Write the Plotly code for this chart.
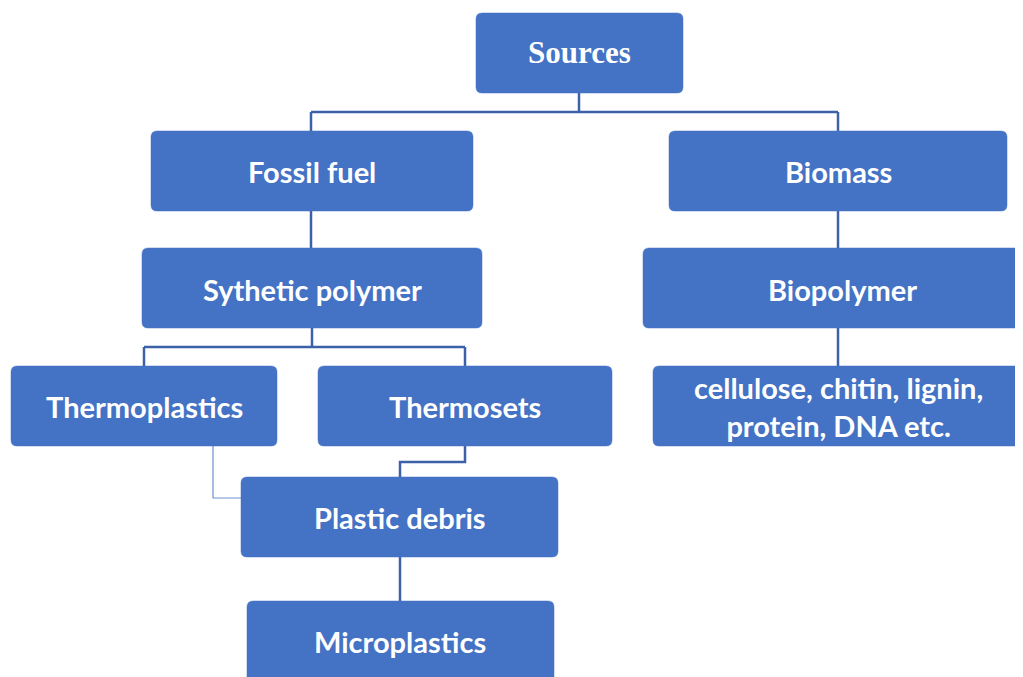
import plotly.graph_objects as go

# Node labels and box extents (left, top, right, bottom) in diagram units
labels = ["Sources", "Fossil fuel", "Biomass", "Sythetic polymer", "Biopolymer",
          "Thermoplastics", "Thermosets", "cellulose, chitin, lignin,<br>protein, DNA etc.",
          "Plastic debris", "Microplastics"]
box_left = [476, 151, 669, 142, 643, 11, 318, 653, 241, 247]
box_top = [13, 131, 131, 248, 248, 366, 366, 366, 477, 601]
box_right = [683, 473, 1007, 482, 1040, 277, 612, 1040, 558, 554]
box_bottom = [93, 211, 211, 328, 328, 446, 446, 446, 557, 700]
label_y = [52, 171, 171, 289, 289, 406, 406, 406, 517, 641]
label_x = [579, 312, 838, 312, 842, 144, 465, 838, 400, 400]

# Connector polylines (x list, y list)
conn_x = [[579, 579], [311, 838], [311, 311], [838, 838], [311, 311], [838, 838],
          [312, 312], [144, 465], [144, 144], [465, 465], [838, 838],
          [465, 465, 400, 400], [400, 400]]
conn_y = [[93, 112], [112, 112], [112, 131], [112, 131], [211, 248], [211, 248],
          [328, 347], [347, 347], [347, 366], [347, 366], [328, 366],
          [446, 462, 462, 477], [557, 601]]
thin_x = [213, 213, 241]
thin_y = [446, 498, 498]

FILL = "#4472C4"
LINE = "#3B62A8"
OFF = 8  # page body margin compensation

fig = go.Figure()

xs, ys = [], []
for cx, cy in zip(conn_x, conn_y):
    xs += cx + [None]
    ys += cy + [None]
fig.add_trace(go.Scatter(x=xs, y=ys, mode="lines", line=dict(color=LINE, width=2.5),
                         hoverinfo="skip", showlegend=False))
fig.add_trace(go.Scatter(x=thin_x, y=thin_y, mode="lines", line=dict(color="#6F8FCF", width=1.2),
                         hoverinfo="skip", showlegend=False))

def rounded(x0, y0, x1, y1, r=6):
    return (f"M {x0+r},{y0} L {x1-r},{y0} Q {x1},{y0} {x1},{y0+r} "
            f"L {x1},{y1-r} Q {x1},{y1} {x1-r},{y1} L {x0+r},{y1} "
            f"Q {x0},{y1} {x0},{y1-r} L {x0},{y0+r} Q {x0},{y0} {x0+r},{y0} Z")

for i, lab in enumerate(labels):
    fig.add_shape(type="path", path=rounded(box_left[i], box_top[i], box_right[i], box_bottom[i]),
                  xref="x", yref="y", fillcolor=FILL, line=dict(color=FILL, width=0.5),
                  layer="above")
    if lab == "Sources":
        font = dict(family="Liberation Serif", size=31, color="white")
        text = "<b>" + lab + "</b>"
    else:
        font = dict(family="Lato", size=29, color="white")
        text = "<b>" + lab.replace("<br>", "</b><br><b>") + "</b>"
    fig.add_annotation(x=label_x[i], y=label_y[i], text=text, showarrow=False,
                       font=font, xref="x", yref="y", align="center")

fig.update_layout(width=1023 - OFF, height=677 - OFF, margin=dict(l=0, r=0, t=0, b=0),
                  paper_bgcolor="white", plot_bgcolor="white",
                  xaxis=dict(range=[OFF, 1023], visible=False, fixedrange=True),
                  yaxis=dict(range=[677, OFF], visible=False, fixedrange=True),
                  showlegend=False)
fig.write_html("out.html")
